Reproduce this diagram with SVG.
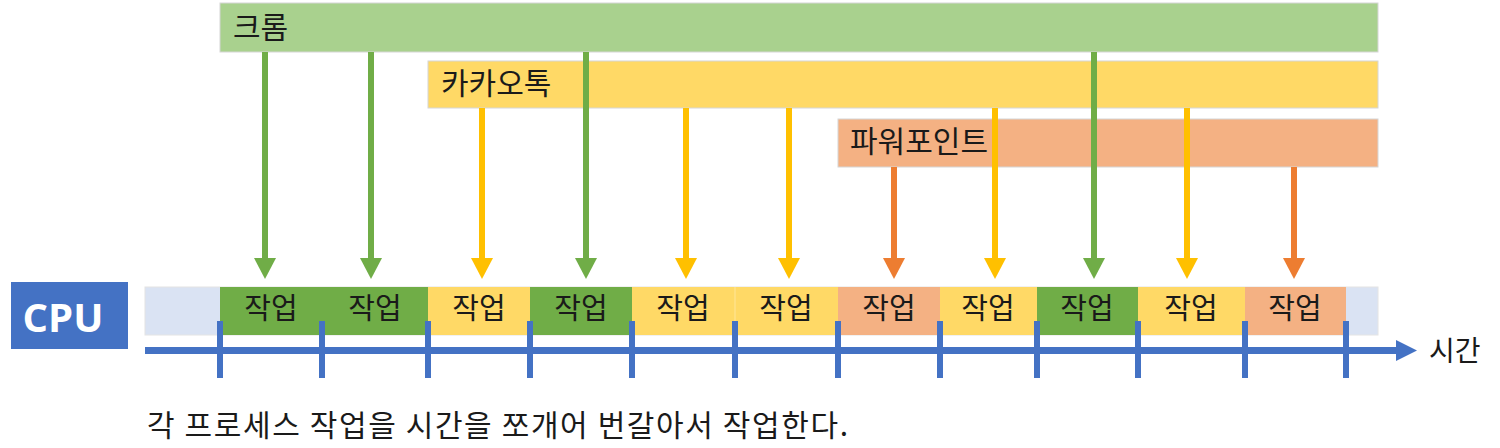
<svg xmlns="http://www.w3.org/2000/svg" width="1500" height="448" viewBox="0 0 1500 448">
<style>
.t{font-family:"Noto Sans CJK KR","Noto Sans",sans-serif;fill:#1a1a1a}
.lbl{font-size:30px}
.blk{font-size:29px;text-anchor:middle}
.bar{stroke:#d6d6d6;stroke-width:1}
.g{fill:#70AD47}.y{fill:#FFD966}.o{fill:#F4B183}
.sg{stroke:#70AD47;stroke-width:6;fill:none}
.sy{stroke:#FFC000;stroke-width:6;fill:none}
.so{stroke:#ED7D31;stroke-width:6;fill:none}
.tick{fill:#4472C4}
</style>
<defs>
<marker id="hg" markerUnits="userSpaceOnUse" markerWidth="21" markerHeight="22" viewBox="0 -11 21 22" refX="0" refY="0" orient="auto"><path d="M0,-11 L21,0 L0,11 z" fill="#70AD47"/></marker>
<marker id="hy" markerUnits="userSpaceOnUse" markerWidth="21" markerHeight="22" viewBox="0 -11 21 22" refX="0" refY="0" orient="auto"><path d="M0,-11 L21,0 L0,11 z" fill="#FFC000"/></marker>
<marker id="ho" markerUnits="userSpaceOnUse" markerWidth="21" markerHeight="22" viewBox="0 -11 21 22" refX="0" refY="0" orient="auto"><path d="M0,-11 L21,0 L0,11 z" fill="#ED7D31"/></marker>
</defs>
<rect width="1500" height="448" fill="#ffffff"/>

<g id="chrome">
<rect class="bar" x="220" y="3" width="1158" height="49" fill="#A9D18E"/>
<text class="t lbl" x="233" y="38">크롬</text>
</g>
<g id="kakaotalk">
<rect class="bar" x="428" y="61" width="950" height="47" fill="#FFD966"/>
<text class="t lbl" x="441" y="94">카카오톡</text>
</g>
<g id="powerpoint">
<rect class="bar" x="838" y="119" width="540" height="48" fill="#F4B183"/>
<text class="t lbl" x="850" y="152">파워포인트</text>
</g>

<g id="cpu">
<rect x="11" y="282" width="117" height="67" fill="#4472C4"/>
<text x="63" y="332" font-family="Open Sans,Liberation Sans,sans-serif" font-weight="bold" font-size="40" fill="#ffffff" text-anchor="middle">CPU</text>
</g>

<g id="track">
<rect x="145" y="287" width="1233" height="48" fill="#DAE3F3" stroke="#e4e4e4" stroke-width="1"/>
<rect class="g" x="220" y="287" width="102" height="48"/>
<rect class="g" x="322" y="287" width="106" height="48"/>
<rect class="y" x="428" y="287" width="102" height="48"/>
<rect class="g" x="530" y="287" width="102" height="48"/>
<rect class="y" x="632" y="287" width="103" height="48"/>
<rect class="y" x="735" y="287" width="103" height="48"/>
<rect class="o" x="838" y="287" width="102" height="48"/>
<rect class="y" x="940" y="287" width="97" height="48"/>
<rect class="g" x="1037" y="287" width="101" height="48"/>
<rect class="y" x="1138" y="287" width="107" height="48"/>
<rect class="o" x="1245" y="287" width="101" height="48"/>
<line x1="735" y1="287" x2="735" y2="335" stroke="#FFE699" stroke-width="1"/>
<text class="t blk" x="271" y="319">작업</text>
<text class="t blk" x="375" y="319">작업</text>
<text class="t blk" x="479" y="319">작업</text>
<text class="t blk" x="581" y="319">작업</text>
<text class="t blk" x="683" y="319">작업</text>
<text class="t blk" x="786" y="319">작업</text>
<text class="t blk" x="889" y="319">작업</text>
<text class="t blk" x="988" y="319">작업</text>
<text class="t blk" x="1087" y="319">작업</text>
<text class="t blk" x="1191" y="319">작업</text>
<text class="t blk" x="1295" y="319">작업</text>
</g>

<g id="axis">
<rect x="145" y="347" width="1253" height="7" fill="#4472C4"/>
<path d="M1396,340 L1417,350.5 L1396,361 z" fill="#4472C4"/>
<rect class="tick" x="217" y="321" width="6" height="57"/>
<rect class="tick" x="319" y="321" width="6" height="57"/>
<rect class="tick" x="425" y="321" width="6" height="57"/>
<rect class="tick" x="527" y="321" width="6" height="57"/>
<rect class="tick" x="629" y="321" width="6" height="57"/>
<rect class="tick" x="732" y="321" width="6" height="57"/>
<rect class="tick" x="835" y="321" width="6" height="57"/>
<rect class="tick" x="937" y="321" width="6" height="57"/>
<rect class="tick" x="1034" y="321" width="6" height="57"/>
<rect class="tick" x="1135" y="321" width="6" height="57"/>
<rect class="tick" x="1242" y="321" width="6" height="57"/>
<rect class="tick" x="1343" y="321" width="6" height="57"/>
<text class="t" x="1429" y="361" font-size="28">시간</text>
</g>

<g id="connectors">
<line class="sg" x1="265" y1="52" x2="265" y2="258" marker-end="url(#hg)"/>
<line class="sg" x1="371" y1="52" x2="371" y2="258" marker-end="url(#hg)"/>
<line class="sg" x1="586" y1="52" x2="586" y2="258" marker-end="url(#hg)"/>
<line class="sg" x1="1094" y1="52" x2="1094" y2="258" marker-end="url(#hg)"/>
<line class="sy" x1="482" y1="108" x2="482" y2="258" marker-end="url(#hy)"/>
<line class="sy" x1="686" y1="108" x2="686" y2="258" marker-end="url(#hy)"/>
<line class="sy" x1="789" y1="108" x2="789" y2="258" marker-end="url(#hy)"/>
<line class="sy" x1="995" y1="108" x2="995" y2="258" marker-end="url(#hy)"/>
<line class="sy" x1="1187" y1="108" x2="1187" y2="258" marker-end="url(#hy)"/>
<line class="so" x1="894" y1="167" x2="894" y2="258" marker-end="url(#ho)"/>
<line class="so" x1="1294" y1="167" x2="1294" y2="258" marker-end="url(#ho)"/>
</g>

<text class="t" x="147" y="436" font-size="30" textLength="701" lengthAdjust="spacing">각 프로세스 작업을 시간을 쪼개어 번갈아서 작업한다.</text>
</svg>
